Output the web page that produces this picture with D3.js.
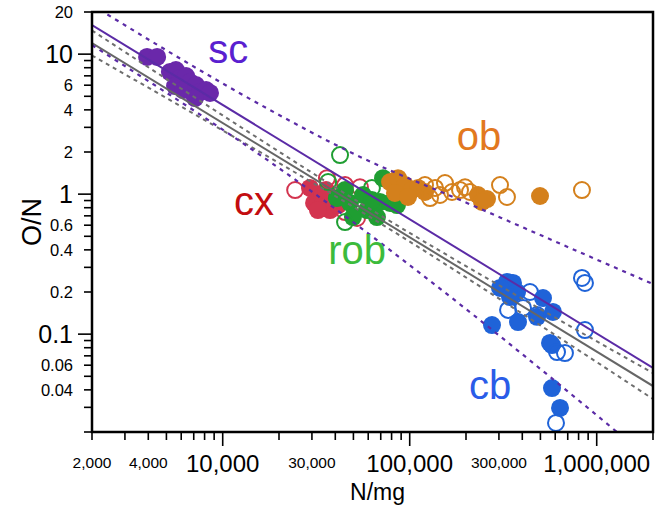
<!DOCTYPE html>
<html><head><meta charset="utf-8">
<script src="https://cdn.jsdelivr.net/npm/d3@7"></script>
<style>body{margin:0;background:#fff}svg{display:block}text{font-family:"Liberation Sans",Arial,Helvetica,sans-serif}</style>
</head><body><svg id="c" width="661" height="514"></svg>
<script>
// ---- data ----
const xDomain = [2000, 2000000];
const yDomain = [0.02, 20];
const xMajorTicks = [10000, 100000, 1000000];
const xMinorLabeled = [2000, 4000, 30000, 300000];
const yMajorTicks = [10, 1, 0.1];
const yMinorLabeled = [20, 6, 4, 2, 0.6, 0.4, 0.2, 0.06, 0.04];

// groups: [N/mg, O/N]
const scFilled = [[3940,9.55],[4460,9.55],[5220,7.45],[5620,7.7],[5910,6.76],[6370,6.98],[6690,6.32],[5560,5.92],[6140,5.54],[7200,6.02],[7570,5.37],[8150,5.54],[8550,5.28],[7110,4.86]];
const cxFilled = [[29300,1.107],[30800,0.865],[34000,0.97],[37500,0.77],[35700,1.07],[41400,0.836],[32300,0.77]];
const cxOpen = [[24400,1.07],[36100,1.30],[45100,1.16],[54200,1.12],[52300,0.676],[45100,0.745]];
const robFilled = [[40800,0.938],[47900,0.865],[56300,0.986],[59100,0.77],[66800,0.686],[69300,0.879],[49700,0.686],[78500,0.865],[85500,0.836],[72000,1.30],[45100,1.07],[62800,0.908]];
const robOpen = [[42400,1.90],[36600,1.22],[62800,1.107],[45100,0.632],[86600,1.036]];
const obFilled = [[78500,1.22],[86600,1.30],[94400,1.16],[102800,1.07],[83400,1.02],[110800,1.107],[97900,0.954],[231800,0.986],[259000,0.923],[243600,0.879],[497500,0.97],[120700,1.036]];
const obOpen = [[120700,1.16],[136600,1.107],[154400,1.20],[168400,1.036],[185800,1.07],[197600,1.12],[128400,0.938],[145200,0.986],[304000,1.16],[331200,0.954],[834000,1.07],[210000,1.036]];
const cbFilled = [[331200,0.236],[356700,0.232],[304000,0.214],[375000,0.2],[343800,0.184],[516100,0.181],[583600,0.144],[379400,0.122],[479700,0.133],[275400,0.116],[562600,0.0865],[576700,0.0836],[576700,0.0412],[636600,0.0297]];
const cbOpen = [[439800,0.2],[335600,0.149],[403600,0.154],[479700,0.137],[834000,0.252],[865400,0.232],[865400,0.107],[613400,0.0745],[676400,0.0733],[605800,0.0232]];

// fitted lines
const purpleFit = [[2000,16.15],[2000000,0.0573]];
const purpleUpper = [[2000,22.4],[17900,3.99],[47900,2.0],[202400,0.865],[955000,0.350],[2000000,0.228]];
const purpleLower = [[2000,11.6],[25900,1.20],[113500,0.273],[1283000,0.02],[2000000,0.0122]];
const grayFit = [[2000,12.0],[2000000,0.0426]];
const grayUpper = [[2000,14.75],[10000,3.65],[60000,0.798],[400000,0.179],[2000000,0.0527]];
const grayLower = [[2000,9.78],[10000,2.85],[60000,0.699],[400000,0.140],[2000000,0.0344]];

const labels = [
  {t:"sc", N:10700, v:8.65, c:"#5a1fd0"},
  {t:"ob", N:234800, v:2.07, c:"#e2781f"},
  {t:"cx", N:14700, v:0.709, c:"#c30d10"},
  {t:"rob", N:52300, v:0.317, c:"#3cbb3c"},
  {t:"cb", N:268800, v:0.0344, c:"#2a5ce8"}
];

// ---- layout ----
const svg = d3.select("#c");
const L = 92, R = 653, T = 12, B = 432;
const x = d3.scaleLog().domain(xDomain).range([L, R]);
const y = d3.scaleLog().domain(yDomain).range([B, T]);

svg.append("defs").append("clipPath").attr("id","clip")
  .append("rect").attr("x",L).attr("y",T).attr("width",R-L).attr("height",B-T);

const fmt = d3.format(",");
// x axis
const xAll = [];
[1000,10000,100000,1000000].forEach(d=>{for(let k=1;k<10;k++){const v=d*k; if(v>=xDomain[0]&&v<=xDomain[1]) xAll.push(v);}});
const xg = svg.append("g").attr("transform",`translate(0,${B})`);
xg.selectAll("line").data(xAll).join("line")
  .attr("x1",d=>x(d)).attr("x2",d=>x(d)).attr("y1",0)
  .attr("y2",d=>xMajorTicks.includes(d)?14:8)
  .attr("stroke","#000").attr("stroke-width",1.6);
xg.selectAll("text.maj").data(xMajorTicks).join("text").attr("class","maj")
  .attr("x",d=>x(d)).attr("y",40).attr("text-anchor","middle")
  .attr("font-size",24).text(d=>fmt(d));
xg.selectAll("text.min").data(xMinorLabeled).join("text").attr("class","min")
  .attr("x",d=>x(d)).attr("y",36).attr("text-anchor","middle")
  .attr("font-size",15.5).text(d=>fmt(d));

// y axis
const yAll = [];
[0.01,0.1,1,10].forEach(d=>{for(let k=1;k<10;k++){const v=+(d*k).toPrecision(3); if(v>=yDomain[0]-1e-9&&v<=yDomain[1]+1e-9) yAll.push(v);}});
const yg = svg.append("g").attr("transform",`translate(${L},0)`);
yg.selectAll("line").data(yAll).join("line")
  .attr("y1",d=>y(d)).attr("y2",d=>y(d)).attr("x1",0)
  .attr("x2",d=>yMajorTicks.includes(d)?-14:-8)
  .attr("stroke","#000").attr("stroke-width",1.6);
yg.selectAll("text.maj").data(yMajorTicks).join("text").attr("class","maj")
  .attr("x",-19).attr("y",d=>y(d)+8.5).attr("text-anchor","end")
  .attr("font-size",25).text(d=>d);
yg.selectAll("text.min").data(yMinorLabeled).join("text").attr("class","min")
  .attr("x",-19).attr("y",d=>y(d)+6).attr("text-anchor","end")
  .attr("font-size",16.5).text(d=>d);

// axis titles
svg.append("text").attr("x",(L+R)/2+5).attr("y",500).attr("text-anchor","middle")
  .attr("font-size",23).text("N/mg");
svg.append("text").attr("transform",`translate(41,${(T+B)/2}) rotate(-90)`)
  .attr("text-anchor","middle").attr("font-size",27).text("O/N");

// points
const plot = svg.append("g").attr("clip-path","url(#clip)");
const groups = [
  {f:cxFilled, o:cxOpen, c:"#d3344f"},
  {f:robFilled, o:robOpen, c:"#1f9e32"},
  {f:obFilled, o:obOpen, c:"#d4801c"},
  {f:cbFilled, o:cbOpen, c:"#1f63d8"},
  {f:scFilled, o:[], c:"#6a28aa"}
];
groups.forEach(g=>{
  plot.append("g").selectAll("circle").data(g.f).join("circle")
    .attr("cx",d=>x(d[0])).attr("cy",d=>y(d[1])).attr("r",9).attr("fill",g.c);
  plot.append("g").selectAll("circle").data(g.o).join("circle")
    .attr("cx",d=>x(d[0])).attr("cy",d=>y(d[1])).attr("r",8)
    .attr("fill","none").attr("stroke",g.c).attr("stroke-width",2);
});

// lines
const line = d3.line().x(d=>x(d[0])).y(d=>y(d[1])).curve(d3.curveMonotoneX);
const lineDefs = [
  {d:grayUpper, c:"#6e6e6e", w:2, dash:"4,4"},
  {d:grayLower, c:"#6e6e6e", w:2, dash:"4,4"},
  {d:grayFit, c:"#666", w:2, dash:null},
  {d:purpleUpper, c:"#5b2ba6", w:2.2, dash:"4,5"},
  {d:purpleLower, c:"#5b2ba6", w:2.2, dash:"4,5"},
  {d:purpleFit, c:"#5b2ba6", w:2, dash:null}
];
lineDefs.forEach(l=>{
  plot.append("path").datum(l.d).attr("d",line).attr("fill","none")
    .attr("stroke",l.c).attr("stroke-width",l.w)
    .attr("stroke-dasharray",l.dash);
});

// group labels
svg.selectAll("text.lab").data(labels).join("text").attr("class","lab")
  .attr("x",d=>x(d.N)).attr("y",d=>y(d.v)).attr("text-anchor","middle")
  .attr("font-size",40).attr("fill",d=>d.c).text(d=>d.t);

// frame
svg.append("rect").attr("x",L).attr("y",T).attr("width",R-L).attr("height",B-T)
  .attr("fill","none").attr("stroke","#000").attr("stroke-width",2.5);
</script></body></html>
